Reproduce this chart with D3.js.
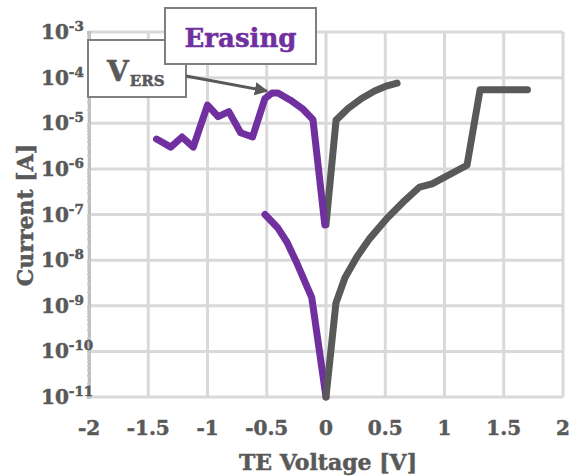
<!DOCTYPE html>
<html><head><meta charset="utf-8">
<script src="https://cdn.jsdelivr.net/npm/d3@7"></script>
<style>
html,body{margin:0;padding:0;background:#fff;}
svg{display:block;}
text{font-family:"DejaVu Serif","Liberation Serif",serif;font-weight:bold;}
</style></head>
<body>
<svg id="chart" width="577" height="476"></svg>
<script>
// ---- data ----
const xTicks = [-2, -1.5, -1, -0.5, 0, 0.5, 1, 1.5, 2];
const yExponents = [-3, -4, -5, -6, -7, -8, -9, -10, -11];
const xLabel = "TE Voltage [V]";
const yLabel = "Current [A]";

// Erasing sweep (purple)
const erasingUpperV = [-1.43, -1.31, -1.215, -1.12, -1.00, -0.91, -0.82, -0.72, -0.62, -0.515, -0.455, -0.405, -0.30, -0.20, -0.11, -0.01];
const erasingUpperI = [4.5e-6, 3.0e-6, 5.0e-6, 3.0e-6, 2.5e-5, 1.4e-5, 1.8e-5, 6.2e-6, 5.0e-6, 3.5e-5, 4.6e-5, 4.6e-5, 3.2e-5, 2.1e-5, 1.2e-5, 5.9e-8];
const erasingLowerV = [-0.515, -0.41, -0.33, -0.245, -0.12, 0];
const erasingLowerI = [1.0e-7, 5.2e-8, 2.5e-8, 8.5e-9, 1.5e-9, 1e-11];

// Set sweep (gray)
const setUpperV = [0, 0.085, 0.186, 0.30, 0.41, 0.515, 0.60];
const setUpperI = [6e-8, 1.17e-5, 2.1e-5, 3.5e-5, 5.1e-5, 6.6e-5, 7.6e-5];
const setLowerV = [0, 0.084, 0.16, 0.26, 0.37, 0.515, 0.65, 0.79, 0.895, 1.19, 1.30, 1.70];
const setLowerI = [1e-11, 1.15e-9, 4.1e-9, 1.17e-8, 3.0e-8, 8.3e-8, 1.86e-7, 4.0e-7, 4.7e-7, 1.2e-6, 5.4e-5, 5.4e-5];

const annoTitle = "Erasing";
const annoV = "V";
const annoSub = "ERS";

// ---- chart ----
const purple = "#7030a0", gray = "#595959", grid = "#d9d9d9", txt = "#595959";
const svg = d3.select("#chart");
const x = d3.scaleLinear().domain([-2, 2]).range([89, 563]);
const y = d3.scaleLog().domain([1e-11, 1e-3]).range([397, 32]);

// grid
const g = svg.append("g");
g.selectAll("line.vg").data(xTicks).join("line")
  .attr("x1", d => x(d)).attr("x2", d => x(d)).attr("y1", y(1e-3)).attr("y2", y(1e-11))
  .attr("stroke", grid).attr("stroke-width", 3);
g.selectAll("line.hg").data(yExponents).join("line")
  .attr("x1", x(-2)).attr("x2", x(2)).attr("y1", d => y(Math.pow(10, d))).attr("y2", d => y(Math.pow(10, d)))
  .attr("stroke", grid).attr("stroke-width", 3);

// left axis line with minor ticks
const yAxis = d3.axisLeft(y).tickValues(
  d3.range(-11, -3).flatMap(e => d3.range(1, 10).map(m => m * Math.pow(10, e)))
).tickSize(2).tickFormat("");
const ya = svg.append("g").attr("transform", `translate(${x(-2)},0)`).call(yAxis);
ya.select(".domain").attr("stroke", "#bfbfbf").attr("stroke-width", 3);
ya.selectAll(".tick line").attr("stroke", "#c8c8c8").attr("stroke-width", 1.5).attr("x2", 2).attr("x1", -2);

// y tick labels 10^e
const yl = svg.append("g");
yExponents.forEach(e => {
  const t = yl.append("text").attr("x", 41).attr("y", y(Math.pow(10, e)) + 7)
    .attr("text-anchor", "start").attr("fill", txt).attr("stroke", txt).attr("stroke-width", 0.5)
    .attr("font-size", 20);
  t.append("tspan").text("10");
  t.append("tspan").attr("dy", -8).attr("font-size", 13.5).text(String(e));
});

// x tick labels
svg.append("g").selectAll("text").data(xTicks).join("text")
  .attr("x", d => x(d)).attr("y", 435).attr("text-anchor", "middle")
  .attr("fill", txt).attr("stroke", txt).attr("stroke-width", 0.5)
  .attr("font-size", 20).text(d => String(d));

// axis titles
svg.append("text").attr("x", 328).attr("y", 470).attr("text-anchor", "middle")
  .attr("fill", txt).attr("stroke", txt).attr("stroke-width", 0.5).attr("font-size", 22).text(xLabel);
svg.append("text").attr("transform", `translate(33,215) rotate(-90)`).attr("text-anchor", "middle")
  .attr("fill", txt).attr("stroke", txt).attr("stroke-width", 0.5).attr("font-size", 22).text(yLabel);

// lines
const line = d3.line().x(d => x(d[0])).y(d => y(d[1]));
const zip = (a, b) => a.map((v, i) => [v, b[i]]);
const drawLine = (V, I, c) => svg.append("path").datum(zip(V, I)).attr("d", line)
  .attr("fill", "none").attr("stroke", c).attr("stroke-width", 7)
  .attr("stroke-linejoin", "round").attr("stroke-linecap", "round");
drawLine(setUpperV, setUpperI, gray);
drawLine(erasingUpperV, erasingUpperI, purple);
drawLine(erasingLowerV, erasingLowerI, purple);
drawLine(setLowerV, setLowerI, gray);

// annotations
const defs = svg.append("defs");
defs.append("marker").attr("id", "arr").attr("viewBox", "0 0 10 10").attr("refX", 9).attr("refY", 5)
  .attr("markerWidth", 4.5).attr("markerHeight", 4.5).attr("markerUnits", "strokeWidth").attr("orient", "auto")
  .append("path").attr("d", "M0,0 L10,5 L0,10 Z").attr("fill", gray);

// V_ERS box
svg.append("rect").attr("x", 88).attr("y", 40).attr("width", 98).attr("height", 57)
  .attr("fill", "#fff").attr("stroke", "#7f7f7f").attr("stroke-width", 2);
const vt = svg.append("text").attr("x", 107).attr("y", 81).attr("fill", txt)
  .attr("stroke", txt).attr("stroke-width", 0.5).attr("font-size", 28);
vt.append("tspan").text(annoV);
vt.append("tspan").attr("dy", 5).attr("dx", 1).attr("font-size", 15).text(annoSub);

// arrow
svg.append("line").attr("x1", 186).attr("y1", 76).attr("x2", 267).attr("y2", 91)
  .attr("stroke", gray).attr("stroke-width", 3).attr("marker-end", "url(#arr)");

// Erasing box
svg.append("rect").attr("x", 165).attr("y", 8).attr("width", 151).attr("height", 56)
  .attr("fill", "#fff").attr("stroke", "#7f7f7f").attr("stroke-width", 2);
svg.append("text").attr("x", 240.5).attr("y", 47).attr("text-anchor", "middle")
  .attr("fill", purple).attr("stroke", purple).attr("stroke-width", 0.5)
  .attr("font-size", 26).text(annoTitle);
</script>
</body></html>
